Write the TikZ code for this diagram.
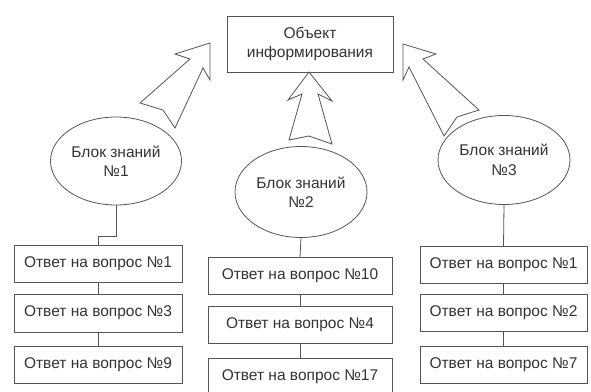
\documentclass[tikz,border=0pt]{standalone}
\usepackage{fontspec}
\setmainfont{Liberation Sans}
\usetikzlibrary{shapes.geometric}
\definecolor{ln}{HTML}{555555}
\definecolor{tx}{HTML}{333333}
\begin{document}
\begin{tikzpicture}[x=1pt,y=-1pt,
  every node/.style={text=tx, font=\fontsize{15.5}{19.5}\selectfont, align=center, inner sep=0pt},
  box/.style={draw=ln, line width=0.8pt, rectangle, minimum height=37pt},
  blk/.style={draw=ln, line width=0.8pt, ellipse, inner sep=0pt},
  conn/.style={draw=ln, line width=0.8pt},
  bigarrow/.style={draw=ln, line width=0.8pt, line join=miter, fill=white}]
\useasboundingbox (0,0) rectangle (591,391);
\fill[white] (0,0) rectangle (591,391);

\node[box, minimum width=166pt, minimum height=56pt] (obj) at (310,44) {Объект\\информирования};

\node[blk, minimum width=131pt, minimum height=88pt] (e1) at (116,161) {Блок знаний\\№1};
\node[blk, minimum width=132pt, minimum height=91pt] (e2) at (301,192) {Блок знаний\\№2};
\node[blk, minimum width=132pt, minimum height=89pt] (e3) at (504,160) {Блок знаний\\№3};

\node[box, minimum width=168pt] (a1) at (98,264) {Ответ на вопрос №1};
\node[box, minimum width=168pt, minimum height=38pt] (a2) at (98,313) {Ответ на вопрос №3};
\node[box, minimum width=168pt] (a3) at (98,365) {Ответ на вопрос №9};

\node[box, minimum width=184pt] (b1) at (300,276) {Ответ на вопрос №10};
\node[box, minimum width=184pt] (b2) at (300,324.5) {Ответ на вопрос №4};
\node[box, minimum width=184pt] (b3) at (300,376.5) {Ответ на вопрос №17};

\node[box, minimum width=167pt] (c1) at (503.5,265) {Ответ на вопрос №1};
\node[box, minimum width=167pt] (c2) at (503.5,312.5) {Ответ на вопрос №2};
\node[box, minimum width=167pt] (c3) at (503.5,365) {Ответ на вопрос №7};

\coordinate (k1) at (116,236);
\draw[conn] (e1.south) -- (k1) -| (a1.north);
\draw[conn] (a1.south) -- (a2.north);
\draw[conn] (a2.south) -- (a3.north);

\draw[conn] (e2.south) -- (b1.north);
\draw[conn] (b1.south) -- (b2.north);
\draw[conn] (b2.south) -- (b3.north);

\draw[conn] (e3.south) -- (c1.north);
\draw[conn] (c1.south) -- (c2.north);
\draw[conn] (c2.south) -- (c3.north);

\draw[bigarrow] (210,43) -- (175,54) -- (190,59) -- (140,103) -- (163,110) -- (175,128) -- (203,68) -- (210,80) -- cycle;
\draw[bigarrow] (309,72) -- (288,100) -- (302,94) -- (289,140) -- (309,136) -- (332,144) -- (318,94) -- (332,101) -- cycle;
\draw[bigarrow] (403,44) -- (403,80) -- (409,67) -- (444,136) -- (457,117) -- (479,110) -- (423,59) -- (436,54) -- cycle;
\end{tikzpicture}
\end{document}
